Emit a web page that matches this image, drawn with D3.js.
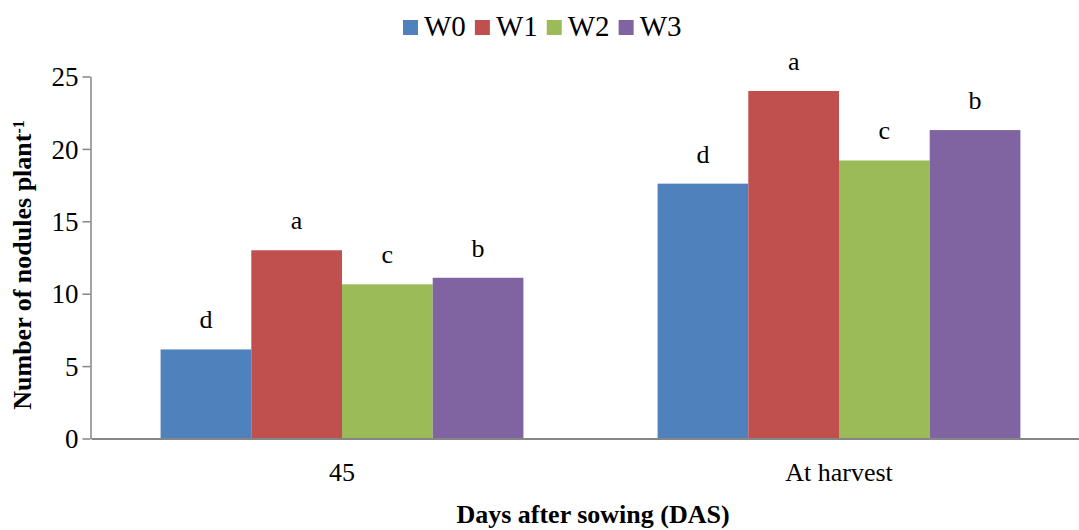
<!DOCTYPE html>
<html>
<head>
<meta charset="utf-8">
<script src="https://cdn.jsdelivr.net/npm/d3@7"></script>
<style>
  body { margin: 0; background: #fff; }
  svg { display: block; }
  text { font-family: "Liberation Serif", "Times New Roman", serif; }
</style>
</head>
<body>
<svg id="chart"></svg>
<script>
// data
const categories = ['45', 'At harvest'];
const series = ['W0', 'W1', 'W2', 'W3'];
const seriesColors = ['#4F81BD', '#C0504D', '#9BBB59', '#8064A2'];
const values45 = [6.15, 13.0, 10.65, 11.1];
const valuesHarvest = [17.6, 24.0, 19.2, 21.3];
const letters45 = ['d', 'a', 'c', 'b'];
const lettersHarvest = ['d', 'a', 'c', 'b'];
const yTicks = [0, 5, 10, 15, 20, 25];

const width = 1079;
const height = 530;
const serif = '"Liberation Serif", "Times New Roman", serif';

const rows = [
  { cat: categories[0], values: values45, letters: letters45 },
  { cat: categories[1], values: valuesHarvest, letters: lettersHarvest }
];

const svg = d3.select('#chart')
  .attr('width', width)
  .attr('height', height);

const x0 = d3.scaleBand()
  .domain(categories)
  .range([91, 1090])
  .paddingInner(0.27)
  .paddingOuter(0.14);

const x1 = d3.scaleBand()
  .domain(series)
  .range([0, x0.bandwidth()]);

const y = d3.scaleLinear()
  .domain([0, 25])
  .range([438.5, 76.5]);

const color = d3.scaleOrdinal().domain(series).range(seriesColors);

// bars
const groups = svg.selectAll('g.group')
  .data(rows)
  .enter()
  .append('g')
  .attr('class', 'group')
  .attr('transform', d => `translate(${x0(d.cat)},0)`);

const barData = d => d.values.map((v, i) => ({ key: series[i], value: v, letter: d.letters[i] }));

groups.selectAll('rect')
  .data(barData)
  .enter()
  .append('rect')
  .attr('x', d => x1(d.key))
  .attr('y', d => y(d.value))
  .attr('width', x1.bandwidth())
  .attr('height', d => y(0) - y(d.value))
  .attr('fill', d => color(d.key));

// significance letters
groups.selectAll('text.letter')
  .data(barData)
  .enter()
  .append('text')
  .attr('class', 'letter')
  .attr('x', d => x1(d.key) + x1.bandwidth() / 2)
  .attr('y', d => y(d.value) - 21)
  .attr('text-anchor', 'middle')
  .style('font-family', serif)
  .style('font-size', '26px')
  .text(d => d.letter);

// y axis
const yAxis = svg.append('g')
  .attr('transform', 'translate(90.5,0)')
  .call(d3.axisLeft(y).tickValues(yTicks).tickSize(8).tickPadding(4).tickSizeOuter(0));
yAxis.selectAll('line, path').attr('stroke', '#868686').attr('stroke-width', 1.5);
yAxis.selectAll('text')
  .style('font-size', '27px')
  .style('font-family', serif)
  .attr('fill', '#000')
  .attr('dy', '0.34em');

// x axis
const xAxis = svg.append('g')
  .attr('transform', `translate(0,${y(0)})`)
  .call(d3.axisBottom(x0).tickSize(0).tickPadding(24).tickSizeOuter(0));
xAxis.select('path').attr('stroke', '#868686').attr('stroke-width', 2);
xAxis.selectAll('text')
  .style('font-size', '26px')
  .style('font-family', serif)
  .attr('fill', '#000');

// axis titles
svg.append('text')
  .attr('x', 593)
  .attr('y', 523)
  .attr('text-anchor', 'middle')
  .style('font-family', serif)
  .style('font-size', '26px')
  .style('font-weight', 'bold')
  .text('Days after sowing (DAS)');

const yTitle = svg.append('text')
  .attr('transform', 'translate(31,265) rotate(-90)')
  .attr('text-anchor', 'middle')
  .style('font-family', serif)
  .style('font-size', '26px')
  .style('font-weight', 'bold');
yTitle.append('tspan').text('Number of nodules plant');
yTitle.append('tspan')
  .attr('dy', '-0.45em')
  .style('font-size', '16px')
  .text('-1');

// legend
const legend = svg.append('g').attr('transform', 'translate(403,0)');
let lx = 0;
series.forEach(s => {
  const item = legend.append('g').attr('transform', `translate(${lx},0)`);
  item.append('rect')
    .attr('x', 0)
    .attr('y', 20)
    .attr('width', 15)
    .attr('height', 15)
    .attr('fill', color(s));
  const t = item.append('text')
    .attr('x', 21)
    .attr('y', 36)
    .style('font-family', serif)
    .style('font-size', '29px')
    .text(s);
  lx += 21 + t.node().getComputedTextLength() + 9;
});
</script>
</body>
</html>
